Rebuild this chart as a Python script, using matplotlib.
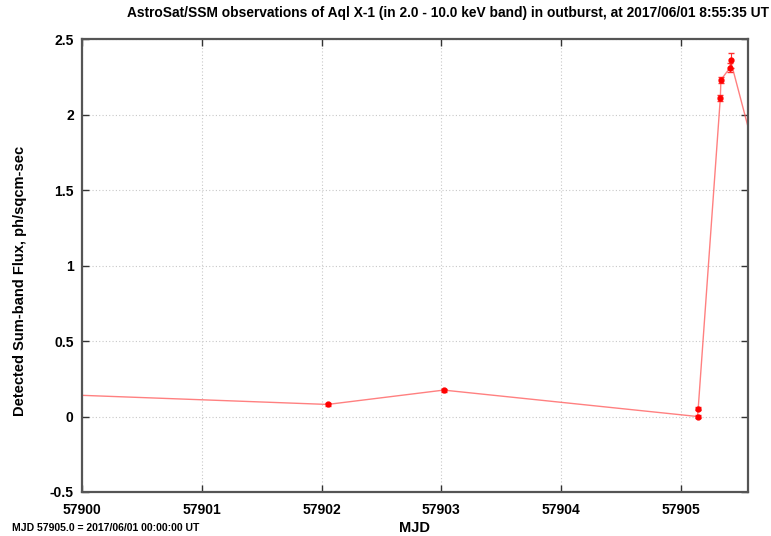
import matplotlib
matplotlib.use("Agg")
import matplotlib.pyplot as plt
from matplotlib.ticker import MultipleLocator

# SSM light curve of Aql X-1, 2.0 - 10.0 keV
mjd = [57899.5, 57902.05, 57903.02, 57905.14, 57905.145, 57905.33, 57905.335,
       57905.41, 57905.415, 57905.75]
flux = [0.155, 0.08, 0.175, 0.0, 0.05, 2.11, 2.23, 2.31, 2.36, 1.35]
flux_err = [0.01, 0.01, 0.01, 0.01, 0.01, 0.02, 0.02, 0.03, 0.05, 0.03]

title = "AstroSat/SSM observations of Aql X-1 (in 2.0 - 10.0 keV band) in outburst, at 2017/06/01 8:55:35 UT"
ref_note = "MJD 57905.0 = 2017/06/01 00:00:00 UT"
yticks = [-0.5, 0, 0.5, 1, 1.5, 2, 2.5]
ytick_labels = ['-0.5', '0', '0.5', '1', '1.5', '2', '2.5']

plt.rcParams['font.family'] = ['Liberation Sans', 'DejaVu Sans']

fig = plt.figure(figsize=(7.71, 5.36), dpi=100)
ax = fig.add_axes([0.1064, 0.0821, 0.8636, 0.8449])

ax.plot(mjd, flux, color='#ff6060', lw=1.0, alpha=0.8, zorder=2)
ax.errorbar(mjd, flux, yerr=flux_err, fmt='o', ms=3.5, color='red',
            ecolor='#ff3030', elinewidth=0.8, capsize=2, zorder=3)

ax.set_xlim(57900, 57905.56)
ax.set_ylim(-0.5, 2.5)
ax.xaxis.set_major_locator(MultipleLocator(1))
ax.set_yticks(yticks)
ax.set_yticklabels(ytick_labels)
ax.xaxis.get_major_formatter().set_useOffset(False)

ax.grid(True, color='#c8c8c8', linestyle=(0, (1, 2)), lw=0.8)
ax.tick_params(direction='in', length=5, width=1, colors='#333333',
               labelsize=10, top=True, right=True, pad=6)
ax.tick_params(axis='x', pad=8)
for lbl in ax.get_xticklabels() + ax.get_yticklabels():
    lbl.set_fontweight('bold')
    lbl.set_color('black')
for s in ax.spines.values():
    s.set_color('#555555')
    s.set_linewidth(1.6)

fig.text(0.998, 0.975, title, ha='right', va='center', fontsize=9.9,
         fontweight='bold')
fig.text(0.026, 0.475, "Detected Sum-band Flux, ph/sqcm-sec", rotation=90,
         ha='center', va='center', fontsize=10.5, fontweight='bold')
fig.text(0.538, 0.015, "MJD", ha='center', va='center', fontsize=10.5,
         fontweight='bold')
fig.text(0.015, 0.015, ref_note, ha='left', va='center', fontsize=7.5,
         fontweight='bold')

fig.savefig("out.png", dpi=100)
